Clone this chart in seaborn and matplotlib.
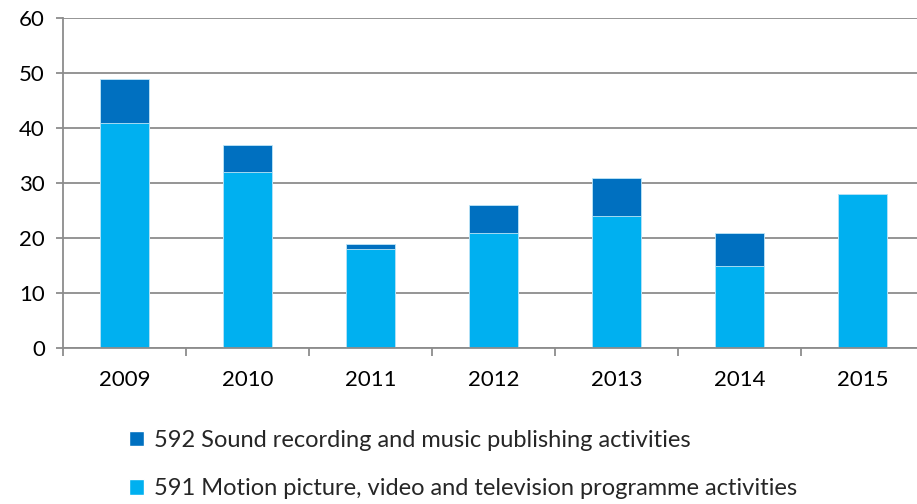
import matplotlib
matplotlib.use("Agg")
import matplotlib.pyplot as plt
import seaborn as sns
import pandas as pd
from matplotlib.patches import Patch

years = ["2009", "2010", "2011", "2012", "2013", "2014", "2015"]
motion_591 = [41, 32, 18, 21, 24, 15, 28]
sound_592 = [8, 5, 1, 5, 7, 6, 0]
label_592 = "592 Sound recording and music publishing activities"
label_591 = "591 Motion picture, video and television programme activities"

sns.set_theme(style="white")
plt.rcParams['font.family'] = ['Lato', 'DejaVu Sans']

df = pd.DataFrame({"year": years, "m591": motion_591, "s592": sound_592})
df["total"] = df["m591"] + df["s592"]

dark = "#0070C0"
light = "#00B0F0"

fig = plt.figure(figsize=(9.17, 5.04), dpi=100)
ax = fig.add_axes([63/917, 1-348/504, (924-63)/917, (348-18)/504])

sns.barplot(data=df, x="year", y="total", color=dark, width=0.4, ax=ax,
            saturation=1, edgecolor="#BFE6F7", linewidth=0.6)
sns.barplot(data=df, x="year", y="m591", color=light, width=0.4, ax=ax,
            saturation=1, edgecolor="#BFE6F7", linewidth=0.6)

ax.set_xlim(-0.5, 6.5)
ax.set_ylim(0, 60)
ax.set_yticks(range(0, 61, 10))
ax.set_xlabel("")
ax.set_ylabel("")
ax.yaxis.grid(True, color="#8C8C8C", linewidth=1.3)
ax.set_axisbelow(True)
for s in ["top", "right"]:
    ax.spines[s].set_visible(False)
for s in ["left", "bottom"]:
    ax.spines[s].set_color("#8C8C8C")
    ax.spines[s].set_linewidth(1.3)

ax.set_xticks([i + 0.5 for i in range(-1, 7)], minor=True)
ax.tick_params(axis="x", which="major", length=0, labelsize=16, pad=16, colors="black")
ax.tick_params(axis="x", which="minor", length=6, width=1.3, color="#8C8C8C", direction="out", bottom=True)
ax.tick_params(axis="y", which="major", length=5, width=1.3, color="#8C8C8C", direction="out", left=True,
               labelsize=16, pad=8, labelcolor="black")

handles = [Patch(facecolor=dark, label=label_592), Patch(facecolor=light, label=label_591)]
fig.legend(handles=handles, loc="upper left", bbox_to_anchor=(117/917, 1-418/504), frameon=False,
           fontsize=17, handlelength=0.65, handleheight=0.65, handletextpad=0.4, labelspacing=1.15,
           borderpad=0)

fig.savefig("out.png", dpi=100)
